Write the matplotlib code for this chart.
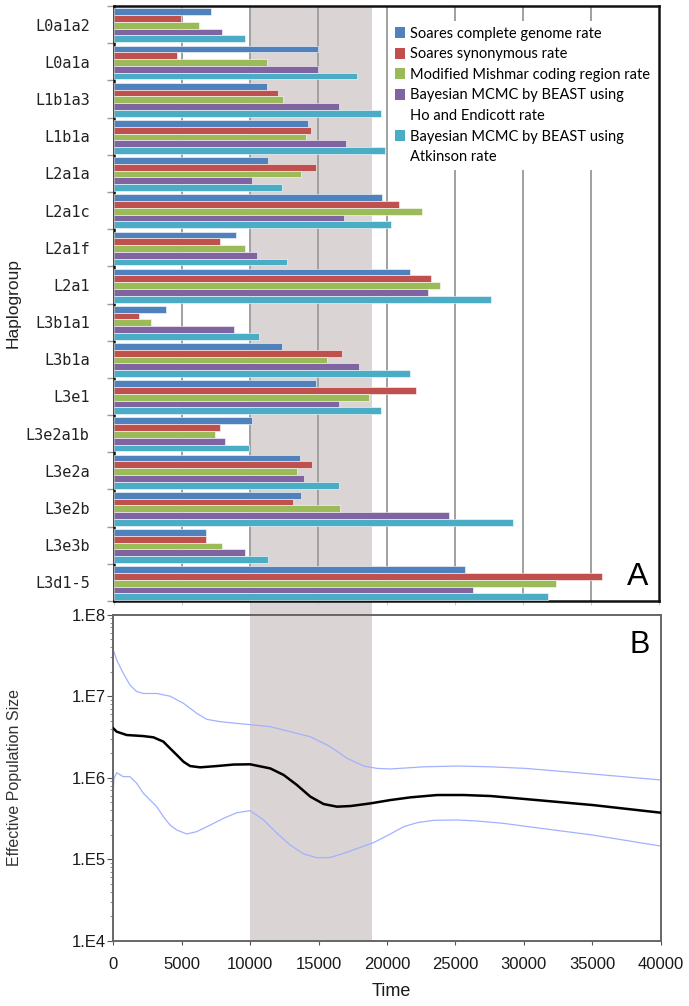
import matplotlib.pyplot as plt
import numpy as np
import matplotlib.transforms as mtransforms
from matplotlib.patches import Patch, Rectangle
from matplotlib.ticker import FixedLocator, LogLocator, FuncFormatter, NullFormatter

# ---- panel A data (years) ----
haplogroups = ["L0a1a2", "L0a1a", "L1b1a3", "L1b1a", "L2a1a", "L2a1c", "L2a1f", "L2a1",
               "L3b1a1", "L3b1a", "L3e1", "L3e2a1b", "L3e2a", "L3e2b", "L3e3b", "L3d1-5"]
series_names = ["Soares complete genome rate", "Soares synonymous rate",
                "Modified Mishmar coding region rate",
                "Bayesian MCMC by BEAST using\nHo and Endicott rate",
                "Bayesian MCMC by BEAST using\nAtkinson rate"]
soares_complete = [7150, 15000, 11250, 14270, 11320, 19670, 8950, 21760,
                   3800, 12350, 14790, 10150, 13620, 13710, 6760, 25770]
soares_synonymous = [4900, 4660, 12060, 14440, 14790, 20940, 7760, 23300,
                     1830, 16740, 22130, 7760, 14520, 13150, 6760, 35850]
mishmar_coding = [6250, 11250, 12440, 14080, 13710, 22570, 9610, 23960,
                  2680, 15620, 18740, 7390, 13420, 16620, 7960, 32450]
beast_ho_endicott = [7960, 15000, 16540, 17030, 10120, 16910, 10490, 23040,
                     8780, 18000, 16520, 8150, 13980, 24600, 9610, 26330]
beast_atkinson = [9610, 17810, 19570, 19910, 12350, 20300, 12690, 27690,
                  10610, 21760, 19570, 9910, 16540, 29260, 11320, 31820]
bar_colors = ["#4F81BD", "#C0504D", "#9BBB59", "#8064A2", "#4BACC6"]

# ---- panel B data (Bayesian skyline) ----
median_t = [0, 250, 980, 2200, 2930, 3660, 4150, 4640, 5130, 5610, 6350, 7570, 8790,
            10000, 11470, 12450, 13420, 14400, 15370, 16350, 17330, 18790, 20250,
            21720, 23670, 25620, 27570, 29530, 35020, 40000]
median_ne = [4.03e6, 3.67e6, 3.34e6, 3.24e6, 3.13e6, 2.77e6, 2.29e6, 1.90e6, 1.57e6,
             1.39e6, 1.34e6, 1.39e6, 1.45e6, 1.46e6, 1.30e6, 1.08e6, 8.13e5, 5.85e5,
             4.75e5, 4.41e5, 4.49e5, 4.84e5, 5.32e5, 5.74e5, 6.13e5, 6.13e5, 5.96e5,
             5.58e5, 4.62e5, 3.72e5]
upper_t = [0, 250, 730, 1220, 1710, 2200, 3170, 4150, 5130, 6100, 6830, 7810, 9030,
           10000, 11470, 12930, 14400, 15860, 17080, 18300, 19280, 20250, 22690,
           25130, 27570, 30140, 35020, 40000]
upper_ne = [3.69e7, 2.78e7, 1.91e7, 1.37e7, 1.14e7, 1.08e7, 1.08e7, 1.00e7, 8.17e6,
            6.16e6, 5.20e6, 4.87e6, 4.64e6, 4.48e6, 4.23e6, 3.67e6, 3.18e6, 2.40e6,
            1.73e6, 1.39e6, 1.30e6, 1.28e6, 1.36e6, 1.39e6, 1.36e6, 1.30e6, 1.11e6,
            9.38e5]
lower_t = [0, 50, 250, 730, 1220, 1710, 2200, 2690, 3170, 3660, 4150, 4640, 5370,
           6100, 7080, 8050, 9030, 10000, 10980, 11960, 12930, 13910, 14890, 15860,
           16840, 18060, 19030, 20250, 21230, 22210, 23430, 25130, 26600, 28550,
           30140, 35020, 40000]
lower_ne = [7.06e5, 9.82e5, 1.15e6, 1.03e6, 1.03e6, 8.53e5, 6.43e5, 5.32e5, 4.41e5,
            3.33e5, 2.62e5, 2.28e5, 2.04e5, 2.18e5, 2.62e5, 3.17e5, 3.72e5, 3.94e5,
            3.03e5, 2.08e5, 1.49e5, 1.16e5, 1.04e5, 1.05e5, 1.18e5, 1.40e5, 1.60e5,
            2.04e5, 2.51e5, 2.81e5, 3.00e5, 3.03e5, 2.94e5, 2.75e5, 2.53e5, 1.98e5,
            1.45e5]

band_start, band_end = 10000, 18900
band_color = "#dad4d4"

fig = plt.figure(figsize=(6.89, 10.06), dpi=100)
axA = fig.add_axes([114 / 689, 405 / 1006, 545 / 689, 595 / 1006])
axB = fig.add_axes([113.3 / 689, 65.3 / 1006, 547.4 / 689, 326 / 1006])

# ---- panel A ----
series = [soares_complete, soares_synonymous, mishmar_coding, beast_ho_endicott, beast_atkinson]
y = np.arange(len(haplogroups))
h = 0.182
bars = []
for i, (vals, col) in enumerate(zip(series, bar_colors)):
    b = axA.barh(y + (i - 2) * h + 0.02, vals, height=h, color=col,
                 edgecolor="white", linewidth=0.4, zorder=3)
    bars.append(b)

axA.axvspan(band_start, band_end, color=band_color, zorder=0, lw=0)
for gx in range(5000, 40000, 5000):
    axA.axvline(gx, color="#a0a0a0", lw=1.4, zorder=1)
axA.set_xlim(0, 40000)
axA.set_ylim(len(haplogroups) - 0.5, -0.5)
axA.set_yticks(y)
axA.set_yticklabels(haplogroups, family="DejaVu Sans Mono", fontsize=11, color="#222222")
axA.tick_params(axis="y", which="major", left=False, pad=14)
axA.yaxis.set_minor_locator(FixedLocator(np.arange(-0.5, len(haplogroups), 1)))
axA.tick_params(axis="y", which="minor", length=5, width=1, color="#999999", direction="out")
axA.set_xticks(range(0, 40001, 5000))
axA.set_xticklabels([])
axA.tick_params(axis="x", length=3, color="#cccccc")
for s in axA.spines.values():
    s.set_linewidth(1.8)
    s.set_color("#111111")
axA.set_ylabel("Haplogroup", family="Liberation Sans", fontsize=12.5, color="#222222")
axA.yaxis.set_label_coords(-0.172, 0.5)

handles = []
labels = []
for b, name, col in zip(bars, series_names, bar_colors):
    parts = name.split("\n")
    handles.append(Patch(facecolor=col, edgecolor="none"))
    labels.append(parts[0])
    for extra in parts[1:]:
        handles.append(Patch(facecolor="none", edgecolor="none"))
        labels.append(extra)
leg = axA.legend(handles, labels, loc="upper left", bbox_to_anchor=(0.505, 0.975),
                 prop={"family": "Lato", "size": 10.5}, frameon=True, fancybox=False,
                 framealpha=1, edgecolor="none", facecolor="white",
                 handlelength=0.65, handleheight=0.75, handletextpad=0.4,
                 labelspacing=0.45, borderpad=0.4, borderaxespad=0)
leg.set_zorder(5)

axA.text(0.961, 0.027, "A", transform=axA.transAxes, fontsize=23,
         family="Liberation Sans", ha="center", va="baseline", zorder=6)

# ---- panel B ----
axB.axvspan(band_start, band_end, color=band_color, zorder=0, lw=0)
axB.plot(upper_t, upper_ne, color="#a3b1ff", lw=0.9, zorder=2)
axB.plot(lower_t, lower_ne, color="#a3b1ff", lw=0.9, zorder=2)
axB.plot(median_t, median_ne, color="black", lw=1.8, zorder=3)
axB.set_yscale("log")
axB.set_ylim(1e4, 1e8)
axB.set_xlim(0, 40000)
axB.set_xticks(range(0, 40001, 5000))
axB.yaxis.set_major_locator(FixedLocator([1e4, 1e5, 1e6, 1e7, 1e8]))
axB.yaxis.set_major_formatter(FuncFormatter(lambda v, p: "1.E%d" % round(np.log10(v))))
axB.yaxis.set_minor_locator(LogLocator(base=10, subs=np.arange(2, 10)))
axB.yaxis.set_minor_formatter(NullFormatter())
axB.tick_params(axis="y", which="major", length=4, pad=1, labelsize=12, color="#555555")
axB.tick_params(axis="y", which="minor", length=2, color="#777777")
axB.tick_params(axis="x", length=3, pad=9, labelsize=12, color="#555555")
for lab in axB.get_xticklabels() + axB.get_yticklabels():
    lab.set_family("Liberation Sans")
    lab.set_color("#1a1a1a")
for s in axB.spines.values():
    s.set_linewidth(1.4)
    s.set_color("#666666")
axB.set_ylabel("Effective Population Size", family="Liberation Sans", fontsize=11.5,
               color="#333333")
axB.yaxis.set_label_coords(-0.167, 0.5)
axB.set_xlabel("Time", family="Liberation Sans", fontsize=13, color="#1a1a1a")
axB.xaxis.set_label_coords(0.507, -0.13)
axB.text(0.962, 0.883, "B", transform=axB.transAxes, fontsize=22,
         family="Liberation Sans", ha="center", va="baseline")

# shaded band continues through the gap between the panels
trans = mtransforms.blended_transform_factory(axB.transData, fig.transFigure)
gap = Rectangle((band_start, 390 / 1006), band_end - band_start, 16 / 1006,
                transform=trans, color=band_color, lw=0, zorder=-1)
fig.add_artist(gap)

fig.savefig("out.png", dpi=100)
